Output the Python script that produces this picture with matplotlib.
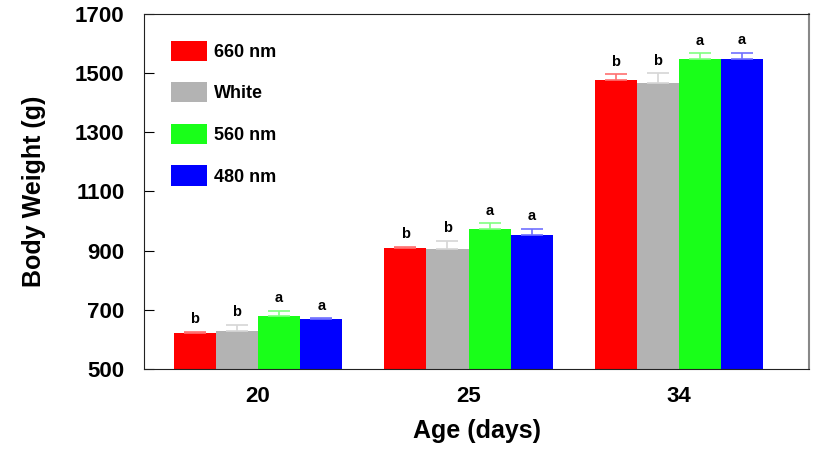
import numpy as np
import matplotlib
matplotlib.use("Agg")
import matplotlib.pyplot as plt

plt.rcParams["font.family"] = ["Liberation Sans", "DejaVu Sans"]
plt.rcParams["font.weight"] = "bold"

ages = ["20", "25", "34"]
series = ["660 nm", "White", "560 nm", "480 nm"]
colors = ["#FF0000", "#B3B3B3", "#19FF19", "#0000FF"]
err_colors = ["#FF7070", "#D6D6D6", "#80FF80", "#7070FF"]

means = {
    "660 nm": [622, 908, 1477],
    "White": [627, 905, 1467],
    "560 nm": [679, 973, 1548],
    "480 nm": [669, 952, 1548],
}
sems = {
    "660 nm": [3, 5, 19],
    "White": [22, 29, 32],
    "560 nm": [18, 20, 19],
    "480 nm": [3, 22, 21],
}
letters = {
    "660 nm": ["b", "b", "b"],
    "White": ["b", "b", "b"],
    "560 nm": ["a", "a", "a"],
    "480 nm": ["a", "a", "a"],
}

fig = plt.figure(figsize=(8.21, 4.49), dpi=100)
ax = fig.add_axes([0.1754, 0.1782, 0.81, 0.7906])

x = np.arange(len(ages))
w = 0.2
for i, s in enumerate(series):
    pos = x + (i - 1.5) * w
    m = np.array(means[s]); e = np.array(sems[s])
    ax.bar(pos, m, width=w, color=colors[i], label=s, zorder=2)
    ax.errorbar(pos, m, yerr=[np.zeros_like(e), e], fmt="none",
                ecolor=err_colors[i], elinewidth=1.2, capsize=8,
                capthick=1.2, zorder=3)
    for xp, top, lt in zip(pos, m + e, letters[s]):
        ax.annotate(lt, (xp, top), xytext=(0, 4), textcoords="offset points",
                    ha="center", va="bottom", fontsize=10.5, fontweight="bold")

ax.set_xlim(-0.542, 2.618)
ax.set_ylim(500, 1700)
ax.set_yticks(range(500, 1701, 200))
ax.set_xticks(x)
ax.set_xticklabels(ages)
ax.tick_params(axis="y", direction="in", length=7, labelsize=16, pad=14)
ax.tick_params(axis="x", length=0, labelsize=16, pad=12)
for sp in ["top", "bottom", "left"]:
    ax.spines[sp].set_color("#222222")
ax.spines["right"].set_color("#888888")
ax.spines["right"].set_linewidth(1.5)

ax.set_xlabel("Age (days)", fontsize=18, fontweight="bold", labelpad=9)
ax.set_ylabel("Body Weight (g)", fontsize=18, fontweight="bold", labelpad=21)

ax.legend(loc="upper left", bbox_to_anchor=(0.04, 0.925), frameon=False,
          fontsize=13, handlelength=2.0, handleheight=1.35,
          labelspacing=1.18, handletextpad=0.4, borderpad=0, borderaxespad=0)

fig.savefig("out.png", dpi=100)
